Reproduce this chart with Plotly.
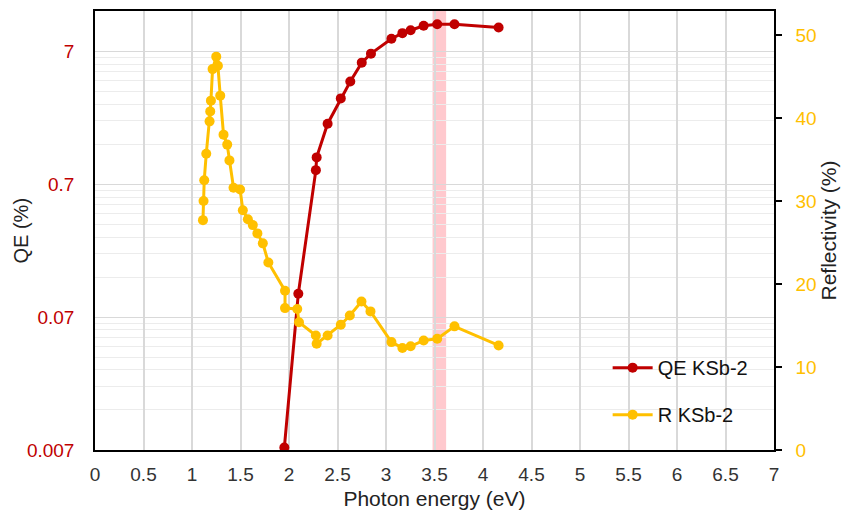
import plotly.graph_objects as go

# Quantum efficiency of the KSb-2 photocathode versus photon energy
qe_energy = [1.952, 2.096, 2.277, 2.285, 2.398, 2.534, 2.632, 2.750, 2.845,
             3.056, 3.169, 3.254, 3.388, 3.528, 3.706, 4.161]
qe_percent = [0.0073, 0.105, 0.894, 1.115, 2.00, 3.10, 4.15, 5.76, 6.73,
              8.71, 9.60, 10.1, 10.9, 11.2, 11.2, 10.6]

# Reflectivity of the same sample
r_energy = [1.113, 1.119, 1.126, 1.147, 1.181, 1.188, 1.195, 1.212, 1.250,
            1.267, 1.291, 1.325, 1.363, 1.386, 1.428, 1.496, 1.524, 1.576,
            1.627, 1.674, 1.730, 1.787, 1.959, 1.959, 2.085, 2.103, 2.277,
            2.285, 2.398, 2.534, 2.627, 2.747, 2.840, 3.056, 3.169, 3.254,
            3.388, 3.528, 3.706, 4.161]
r_percent = [27.7, 30.0, 32.5, 35.7, 39.6, 40.8, 42.1, 45.9, 47.4,
             46.3, 42.7, 38.0, 36.8, 34.9, 31.6, 31.4, 28.9, 27.8,
             27.1, 26.1, 24.9, 22.6, 19.2, 17.1, 17.0, 15.4, 13.8,
             12.8, 13.8, 15.1, 16.2, 17.9, 16.7, 13.0, 12.3, 12.5,
             13.2, 13.4, 14.9, 12.6]

# Highlighted energy window
band = [3.48, 3.62]

# Axis ticks
x_ticks = [0, 0.5, 1, 1.5, 2, 2.5, 3, 3.5, 4, 4.5, 5, 5.5, 6, 6.5, 7]
qe_ticks = [0.007, 0.07, 0.7, 7]
qe_tick_text = ["0.007", "0.07", "0.7", "7"]
qe_minor = [b * k for b in qe_ticks for k in range(2, 10)]
r_ticks = [0, 10, 20, 30, 40, 50]

RED = "#C00000"
GOLD = "#FFC000"
FONT = "Liberation Sans, Arial, sans-serif"

fig = go.Figure()

fig.add_trace(go.Scatter(
    x=qe_energy, y=qe_percent, name="QE KSb-2", mode="lines+markers",
    line=dict(color=RED, width=3), marker=dict(color=RED, size=10),
    legendgroup="qe", legendrank=1, yaxis="y",
))
fig.add_trace(go.Scatter(
    x=r_energy, y=r_percent, name="R KSb-2", mode="lines+markers",
    line=dict(color=GOLD, width=3), marker=dict(color=GOLD, size=10),
    legendgroup="r", legendrank=2, yaxis="y2",
))

fig.add_shape(type="rect", xref="x", yref="paper", x0=band[0], x1=band[1],
              y0=0, y1=1, fillcolor="rgba(255,60,80,0.28)", line_width=0,
              layer="between")

# Left axis title, placed just left of the tick labels
fig.add_annotation(text="QE (%)", xref="paper", yref="paper", x=-0.109, y=0.5,
                   xanchor="center", yanchor="middle", textangle=-90,
                   showarrow=False, font=dict(size=20, color="#222"))

fig.update_layout(
    width=845, height=519,
    margin=dict(l=95, r=71, t=9, b=69),
    paper_bgcolor="white", plot_bgcolor="white",
    font=dict(family=FONT, size=19, color="#222"),
    showlegend=True,
    legend=dict(x=0.755, y=0.232, xanchor="left", yanchor="top",
                bgcolor="rgba(0,0,0,0)", font=dict(size=20, color="#111"),
                tracegroupgap=18, itemwidth=40),
    xaxis=dict(
        range=[0, 7], tickvals=x_ticks, ticks="outside", ticklen=6,
        tickcolor="rgba(0,0,0,0)", showgrid=True, gridcolor="#d9d9d9",
        gridwidth=1.5, showline=True, linecolor="black", linewidth=1.5,
        mirror=True, zeroline=False,
        tickfont=dict(size=19, color="#333"),
        title=dict(text="Photon energy (eV)", font=dict(size=21, color="#222"),
                   standoff=8),
    ),
    yaxis=dict(
        type="log", range=[-2.155, 1.149], tickvals=qe_ticks,
        ticktext=qe_tick_text, ticks="outside", ticklen=15,
        tickcolor="rgba(0,0,0,0)", showgrid=True, gridcolor="#d9d9d9",
        gridwidth=1.2, showline=True, linecolor="black", linewidth=1.5,
        mirror=True, zeroline=False,
        minor=dict(tickvals=qe_minor, showgrid=True, gridcolor="#ececec",
                   gridwidth=1, ticks=""),
        tickfont=dict(size=19, color=RED),
    ),
    yaxis2=dict(
        overlaying="y", side="right", range=[0, 52.9], tickvals=r_ticks,
        ticks="outside", ticklen=6, tickcolor="black", tickwidth=1.5,
        showgrid=False, zeroline=False, showline=True, linecolor="black",
        linewidth=1.5, ticklabelstandoff=10,
        tickfont=dict(size=19, color=GOLD),
        title=dict(text="Reflectivity (%)", font=dict(size=21, color="#222"),
                   standoff=4),
    ),
)

fig.write_html("out.html")
